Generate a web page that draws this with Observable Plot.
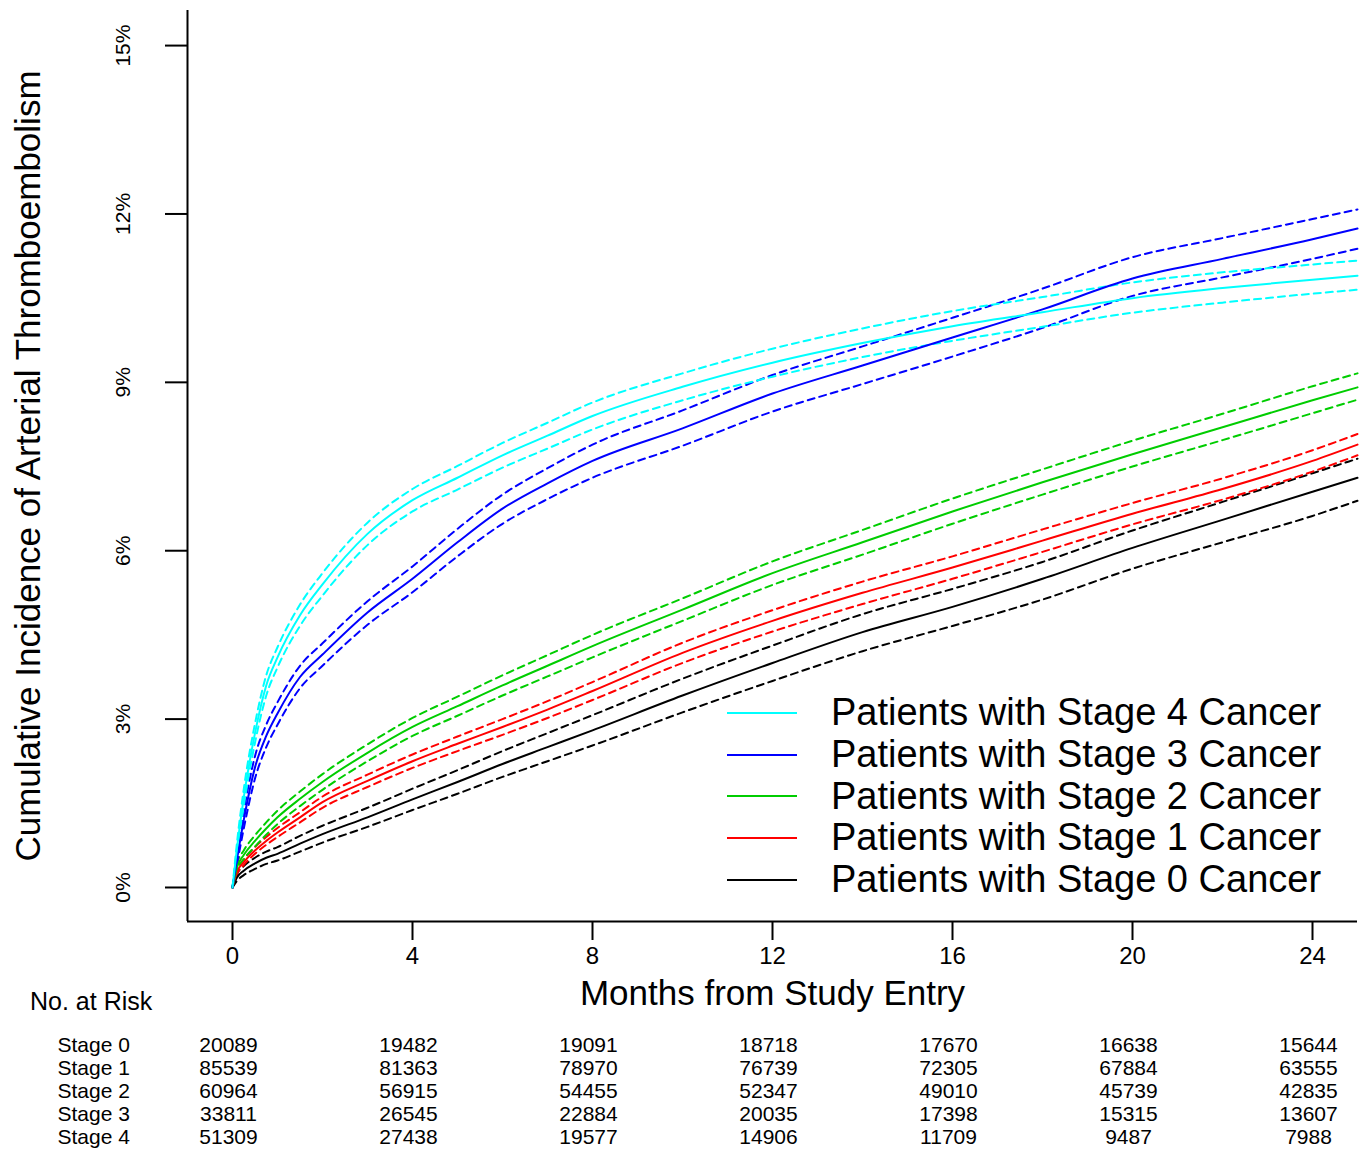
<!DOCTYPE html>
<html>
<head>
<meta charset="utf-8">
<script src="https://cdn.jsdelivr.net/npm/d3@7"></script>
<script src="https://cdn.jsdelivr.net/npm/@observablehq/plot@0.6"></script>
<style>
  body { margin: 0; background: #fff; }
  #wrap { position: relative; width: 1365px; height: 1150px; font-family: "Liberation Sans", Arial, sans-serif; color: #000; }
  #wrap svg { display: block; }
  #legend { position: absolute; left: 727px; top: 692px; font-size: 38px; }
  .lrow { display: flex; align-items: center; height: 41.75px; line-height: 41.75px; white-space: nowrap; }
  .lrow svg { margin-right: 34px; }
  #risk-title { position: absolute; left: 30px; top: 986px; font-size: 25px; line-height: 30px; }
</style>
</head>
<body>
<div id="wrap"></div>
<script>
// ---- Data ----
const months = [0, 0.1, 0.25, 0.5, 0.75, 1, 1.5, 2, 3, 4, 5, 6, 7, 8, 10, 12, 14, 16, 18, 20, 22, 24, 25];

const stage0Est = [0, 0.18, 0.30, 0.43, 0.53, 0.60, 0.78, 0.95, 1.25, 1.57, 1.88, 2.20, 2.50, 2.80, 3.42, 4.00, 4.55, 5.00, 5.50, 6.05, 6.55, 7.05, 7.30];
const stage0Hi  = [0, 0.24, 0.38, 0.53, 0.64, 0.72, 0.92, 1.10, 1.42, 1.76, 2.09, 2.43, 2.75, 3.07, 3.72, 4.31, 4.87, 5.32, 5.80, 6.36, 6.87, 7.38, 7.64];
const stage0Lo  = [0, 0.12, 0.22, 0.33, 0.42, 0.48, 0.64, 0.80, 1.08, 1.38, 1.67, 1.97, 2.25, 2.53, 3.12, 3.68, 4.21, 4.66, 5.13, 5.68, 6.15, 6.62, 6.89];

const stage1Est = [0, 0.28, 0.45, 0.66, 0.83, 0.98, 1.25, 1.52, 1.90, 2.25, 2.56, 2.86, 3.17, 3.50, 4.18, 4.75, 5.25, 5.70, 6.18, 6.66, 7.10, 7.60, 7.89];
const stage1Hi  = [0, 0.32, 0.50, 0.72, 0.90, 1.06, 1.34, 1.62, 2.01, 2.37, 2.69, 3.00, 3.32, 3.66, 4.36, 4.94, 5.45, 5.90, 6.38, 6.85, 7.29, 7.79, 8.08];
const stage1Lo  = [0, 0.24, 0.40, 0.60, 0.76, 0.90, 1.16, 1.42, 1.79, 2.13, 2.43, 2.72, 3.02, 3.34, 4.00, 4.56, 5.05, 5.50, 5.98, 6.47, 6.91, 7.41, 7.70];

const stage2Est = [0, 0.36, 0.58, 0.83, 1.05, 1.25, 1.58, 1.88, 2.40, 2.86, 3.23, 3.60, 3.95, 4.30, 4.95, 5.60, 6.15, 6.70, 7.22, 7.72, 8.20, 8.68, 8.91];
const stage2Hi  = [0, 0.42, 0.66, 0.93, 1.16, 1.37, 1.71, 2.02, 2.55, 3.02, 3.40, 3.78, 4.14, 4.50, 5.15, 5.81, 6.37, 6.93, 7.45, 7.96, 8.44, 8.93, 9.16];
const stage2Lo  = [0, 0.30, 0.50, 0.73, 0.94, 1.13, 1.45, 1.74, 2.25, 2.70, 3.06, 3.42, 3.76, 4.10, 4.75, 5.39, 5.93, 6.48, 7.00, 7.50, 7.97, 8.45, 8.69];

const stage3Est = [0, 0.50, 1.20, 2.14, 2.70, 3.10, 3.75, 4.15, 4.90, 5.50, 6.15, 6.75, 7.20, 7.60, 8.18, 8.80, 9.30, 9.80, 10.30, 10.85, 11.20, 11.55, 11.74];
const stage3Hi  = [0, 0.58, 1.35, 2.34, 2.90, 3.30, 3.95, 4.35, 5.10, 5.72, 6.39, 7.00, 7.47, 7.89, 8.50, 9.13, 9.64, 10.15, 10.67, 11.23, 11.57, 11.91, 12.08];
const stage3Lo  = [0, 0.42, 1.05, 1.94, 2.50, 2.90, 3.55, 3.95, 4.68, 5.26, 5.90, 6.48, 6.92, 7.30, 7.87, 8.48, 8.97, 9.46, 9.97, 10.54, 10.87, 11.20, 11.38];

const stage4Est = [0, 0.70, 1.60, 2.75, 3.60, 4.10, 4.85, 5.40, 6.30, 6.90, 7.30, 7.70, 8.05, 8.40, 8.92, 9.35, 9.70, 10.00, 10.25, 10.50, 10.68, 10.83, 10.90];
const stage4Hi  = [0, 0.80, 1.75, 2.92, 3.78, 4.28, 5.04, 5.60, 6.50, 7.10, 7.51, 7.92, 8.28, 8.64, 9.16, 9.60, 9.96, 10.27, 10.52, 10.78, 10.96, 11.10, 11.17];
const stage4Lo  = [0, 0.60, 1.45, 2.58, 3.42, 3.92, 4.66, 5.20, 6.10, 6.70, 7.09, 7.48, 7.82, 8.16, 8.68, 9.10, 9.45, 9.74, 9.99, 10.24, 10.42, 10.58, 10.65];

const stages = ["Stage 0", "Stage 1", "Stage 2", "Stage 3", "Stage 4"];
const stageColors = ["#000000", "#FF0000", "#00CD00", "#0000FF", "#00FFFF"];
const legendLabels = ["Patients with Stage 4 Cancer", "Patients with Stage 3 Cancer", "Patients with Stage 2 Cancer", "Patients with Stage 1 Cancer", "Patients with Stage 0 Cancer"];
const legendStages = ["Stage 4", "Stage 3", "Stage 2", "Stage 1", "Stage 0"];

const xTickValues = [0, 4, 8, 12, 16, 20, 24];
const yTickValues = [0, 3, 6, 9, 12, 15];

const riskMonths = [0, 4, 8, 12, 16, 20, 24];
const stage0Risk = [20089, 19482, 19091, 18718, 17670, 16638, 15644];
const stage1Risk = [85539, 81363, 78970, 76739, 72305, 67884, 63555];
const stage2Risk = [60964, 56915, 54455, 52347, 49010, 45739, 42835];
const stage3Risk = [33811, 26545, 22884, 20035, 17398, 15315, 13607];
const stage4Risk = [51309, 27438, 19577, 14906, 11709, 9487, 7988];

const yTitle = "Cumulative Incidence of Arterial Thromboembolism";
const xTitle = "Months from Study Entry";
const riskTitle = "No. at Risk";

// ---- Build tables ----
const curveSets = [
  [stage0Est, stage0Lo, stage0Hi],
  [stage1Est, stage1Lo, stage1Hi],
  [stage2Est, stage2Lo, stage2Hi],
  [stage3Est, stage3Lo, stage3Hi],
  [stage4Est, stage4Lo, stage4Hi]
];
const estRows = [], ciRows = [];
stages.forEach((s, i) => {
  months.forEach((m, j) => {
    estRows.push({stage: s, month: m, value: curveSets[i][0][j]});
    ciRows.push({stage: s, bound: "lower", month: m, value: curveSets[i][1][j]});
    ciRows.push({stage: s, bound: "upper", month: m, value: curveSets[i][2][j]});
  });
});
const riskSets = [stage0Risk, stage1Risk, stage2Risk, stage3Risk, stage4Risk];
const riskRows = [];
stages.forEach((s, i) => riskMonths.forEach((m, j) => riskRows.push({stage: s, month: m, n: riskSets[i][j]})));

const font = "'Liberation Sans', Arial, sans-serif";
const colorScale = {domain: stages, range: stageColors, type: "ordinal"};

const main = Plot.plot({
  width: 1365,
  height: 1015,
  marginLeft: 187,
  marginRight: 8,
  marginTop: 10,
  marginBottom: 94,
  style: {fontFamily: font, background: "white", color: "black"},
  x: {domain: [-1, 25]},
  y: {domain: [-0.606, 15.625]},
  color: colorScale,
  marks: [
    Plot.line(ciRows, {x: "month", y: "value", z: d => d.stage + d.bound, stroke: "stage", strokeWidth: 2, strokeDasharray: "7,5", curve: "monotone-x"}),
    Plot.line(estRows, {x: "month", y: "value", z: "stage", stroke: "stage", strokeWidth: 2, curve: "monotone-x"}),
    Plot.axisX({ticks: xTickValues, tickSize: 19, tickPadding: 6, fontSize: 24, strokeWidth: 2, label: null}),
    Plot.axisY({ticks: yTickValues, tickSize: 22, tickPadding: 36, tickRotate: -90, tickFormat: d => d + "%", fontSize: 21, strokeWidth: 2, label: null}),
    Plot.ruleX([-1], {strokeWidth: 2}),
    Plot.ruleY([-0.606], {strokeWidth: 2}),
    Plot.text([yTitle], {text: d => d, frameAnchor: "left", textAnchor: "middle", lineAnchor: "middle", dx: -159, rotate: -90, fontSize: 35}),
    Plot.text([xTitle], {text: d => d, frameAnchor: "bottom", textAnchor: "middle", lineAnchor: "middle", dy: 72, fontSize: 35})
  ]
});

const table = Plot.plot({
  width: 1365,
  height: 135,
  marginLeft: 187,
  marginRight: 8,
  marginTop: 28,
  marginBottom: 12,
  style: {fontFamily: font, background: "white", color: "black"},
  x: {domain: [-1, 25], axis: null},
  y: {type: "point", domain: stages, padding: 0, axis: null},
  marks: [
    Plot.text(riskRows, {x: "month", y: "stage", text: d => String(d.n), fontSize: 21, dx: -4}),
    Plot.text(stages, {y: d => d, text: d => d, frameAnchor: "left", textAnchor: "start", dx: -130, fontSize: 21})
  ]
});

const wrap = document.getElementById("wrap");
wrap.appendChild(main);
wrap.appendChild(table);

// legend (inside the plot area, lower right)
const legend = document.createElement("div");
legend.id = "legend";
legendLabels.forEach((lab, i) => {
  const row = document.createElement("div");
  row.className = "lrow";
  const col = stageColors[stages.indexOf(legendStages[i])];
  row.innerHTML = `<svg width="70" height="6"><line x1="0" x2="70" y1="3" y2="3" stroke="${col}" stroke-width="2"/></svg><span>${lab}</span>`;
  legend.appendChild(row);
});
wrap.appendChild(legend);

const rt = document.createElement("div");
rt.id = "risk-title";
rt.textContent = riskTitle;
wrap.appendChild(rt);
</script>
</body>
</html>
